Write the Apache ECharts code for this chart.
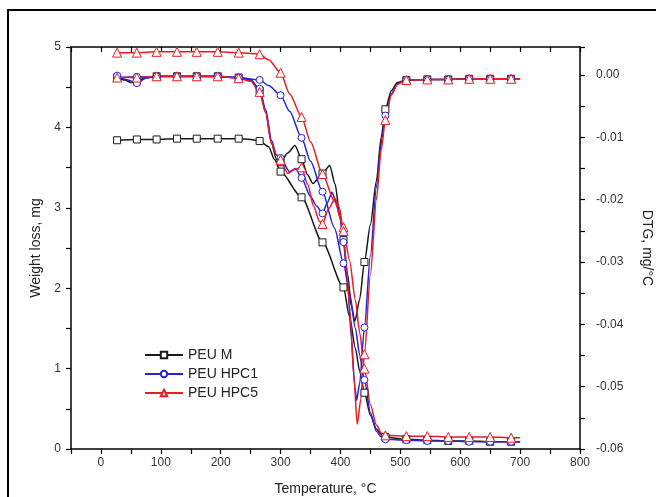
<!DOCTYPE html>
<html><head><meta charset="utf-8">
<script src="https://cdn.jsdelivr.net/npm/echarts@6/dist/echarts.min.js"></script>
<style>html,body{margin:0;padding:0;background:#fff}#c{width:656px;height:497px}</style>
</head><body><div id="c"></div>
<script>
// Temperatures (°C) where markers are drawn
const markerTemps = [27,60,93,127,160,195,230,265,300,335,370,405,440,475,510,545,580,615,650,685];
const seriesNames = ['PEU M','PEU HPC1','PEU HPC5'];

// TG curves (weight, mg) – left axis
const tgTemp_M = [27,60,93,127,160,195,230,250,265,280,290,300,335,370,405,415,425,432,440,450,460,468,475,510,545,580,615,650,685,700];
const tg_M     = [3.84,3.85,3.85,3.86,3.86,3.86,3.86,3.85,3.83,3.76,3.60,3.45,3.13,2.57,2.01,1.65,1.25,0.97,0.70,0.42,0.25,0.18,0.15,0.12,0.11,0.10,0.10,0.09,0.09,0.09];

const tgTemp_H1 = [27,60,93,127,160,195,230,265,280,300,315,335,350,370,390,405,415,425,432,440,450,460,468,475,510,545,580,615,650,685,700];
const tg_H1     = [4.62,4.63,4.63,4.63,4.63,4.63,4.62,4.59,4.52,4.40,4.20,3.87,3.58,3.20,2.75,2.31,1.95,1.50,1.17,0.86,0.45,0.22,0.15,0.12,0.11,0.10,0.10,0.09,0.09,0.09,0.09];

const tgTemp_H5 = [27,60,93,127,160,195,230,250,265,280,300,315,335,350,370,390,405,415,425,432,440,450,460,468,475,510,545,580,615,650,685,700];
const tg_H5     = [4.93,4.93,4.94,4.94,4.94,4.94,4.93,4.92,4.91,4.84,4.68,4.42,4.13,3.82,3.42,3.08,2.76,2.35,1.85,1.45,1.00,0.55,0.30,0.20,0.17,0.16,0.16,0.15,0.15,0.15,0.14,0.14];

// DTG curves (mg/°C) – right axis
const dtgTemp_M = [27,40,50,60,75,93,127,160,195,230,250,265,275,285,293,300,312,324,335,345,354,370,382,391,399,405,412,418,424,432,440,450,460,468,475,485,495,510,545,580,615,650,685,700];
const dtg_M     = [-0.0004,-0.0008,-0.0012,-0.0010,-0.0004,-0.0002,-0.0002,-0.0002,-0.0002,-0.0004,-0.0008,-0.0025,-0.0060,-0.0110,-0.0135,-0.0140,-0.0125,-0.0113,-0.0135,-0.0160,-0.0174,-0.0158,-0.0145,-0.0175,-0.0225,-0.0265,-0.0320,-0.0370,-0.0395,-0.0360,-0.0300,-0.0240,-0.0170,-0.0100,-0.0055,-0.0025,-0.0012,-0.0008,-0.0007,-0.0007,-0.0006,-0.0006,-0.0006,-0.0006];

const dtgTemp_H1 = [27,45,60,75,93,127,160,195,230,250,265,275,285,293,300,315,325,335,350,360,370,378,386,393,399,405,412,418,424,427,432,440,450,460,468,475,485,495,510,545,580,615,650,685,700];
const dtg_H1     = [-0.0001,-0.0008,-0.0013,-0.0005,-0.0002,-0.0002,-0.0002,-0.0002,-0.0004,-0.0008,-0.0022,-0.0055,-0.0105,-0.0128,-0.0133,-0.0155,-0.0150,-0.0165,-0.0195,-0.0210,-0.0222,-0.0205,-0.0188,-0.0205,-0.0228,-0.0268,-0.0335,-0.0420,-0.0500,-0.0522,-0.0495,-0.0405,-0.0290,-0.0180,-0.0110,-0.0065,-0.0030,-0.0014,-0.0008,-0.0007,-0.0007,-0.0006,-0.0006,-0.0006,-0.0006];

const dtgTemp_H5 = [27,60,93,127,160,195,230,250,265,275,285,293,300,312,322,335,345,355,365,370,380,391,398,405,410,416,422,428,434,440,450,460,468,475,485,495,510,545,580,615,650,685,700];
const dtg_H5     = [-0.0004,-0.0004,-0.0002,-0.0002,-0.0002,-0.0002,-0.0005,-0.0010,-0.0027,-0.0060,-0.0110,-0.0128,-0.0136,-0.0158,-0.0152,-0.0148,-0.0175,-0.0210,-0.0235,-0.0239,-0.0215,-0.0198,-0.0212,-0.0250,-0.0310,-0.0380,-0.0480,-0.0560,-0.0520,-0.0448,-0.0320,-0.0200,-0.0120,-0.0072,-0.0032,-0.0015,-0.0008,-0.0007,-0.0007,-0.0006,-0.0006,-0.0006,-0.0006];

const colors = ['#1a1a1a','#2323d8','#e81c24'];
const symbols = ['rect','circle','triangle'];
const symSizes = [7,7,9];

function mk(idx, temps, vals, yIdx) {
  const color = colors[idx];
  return {
    name: seriesNames[idx], type: 'line', xAxisIndex: 0, yAxisIndex: yIdx,
    smooth: 0.25, smoothMonotone: 'x',
    symbol: symbols[idx], symbolSize: symSizes[idx],
    lineStyle: {color: color, width: 1.5},
    itemStyle: {color: '#ffffff', borderColor: color, borderWidth: 1},
    emphasis: {disabled: true},
    data: temps.map((t, i) => markerTemps.includes(t) ? [t, vals[i]] : {value: [t, vals[i]], symbol: 'none'})
  };
}

const txt = {fontFamily: 'Liberation Sans, Arial, sans-serif'};
const chart = echarts.init(document.getElementById('c'), null, {renderer: 'canvas'});
chart.setOption({
  animation: false,
  backgroundColor: '#ffffff',
  textStyle: txt,
  graphic: [{type: 'rect', shape: {x: 8, y: 10, width: 700, height: 600}, style: {fill: 'none', stroke: '#000', lineWidth: 2}}],
  grid: {left: 71, right: 76, top: 47, bottom: 48, containLabel: false, outerBoundsMode: 'none'},
  legend: {
    orient: 'vertical', left: 139, top: 343, itemWidth: 38, itemHeight: 8, itemGap: 5,
    textStyle: {fontFamily: txt.fontFamily, fontSize: 14, color: '#222', lineHeight: 14},
    data: seriesNames
  },
  xAxis: [{
    type: 'value', position: 'bottom', min: -50, max: 800, interval: 50,
    name: 'Temperature, °C', nameLocation: 'middle', nameGap: 33,
    nameTextStyle: {fontSize: 14, color: '#222', fontFamily: txt.fontFamily},
    axisLine: {show: true, onZero: false, lineStyle: {color: '#000', width: 1.5}},
    axisTick: {show: true, inside: false, length: 5, lineStyle: {color: '#000', width: 1.2}},
    axisLabel: {margin: 8, fontSize: 12, color: '#333', formatter: v => (v >= 0 && v % 100 === 0) ? String(v) : ''},
    splitLine: {show: false}
  }, {
    type: 'value', position: 'top', min: -50, max: 800, interval: 50,
    axisLine: {show: true, onZero: false, lineStyle: {color: '#000', width: 1.5}},
    axisTick: {show: true, inside: true, length: 5, lineStyle: {color: '#000', width: 1.2}},
    axisLabel: {show: false}, splitLine: {show: false}
  }],
  yAxis: [{
    type: 'value', position: 'left', min: 0, max: 5, interval: 0.5,
    name: 'Weight loss, mg', nameLocation: 'middle', nameGap: 27,
    nameTextStyle: {fontSize: 14, color: '#222', fontFamily: txt.fontFamily},
    axisLine: {show: true, onZero: false, lineStyle: {color: '#000', width: 1.5}},
    axisTick: {show: true, inside: false, length: 5, lineStyle: {color: '#000', width: 1.2}},
    axisLabel: {margin: 10, fontSize: 12, color: '#333', formatter: v => Math.abs(v - Math.round(v)) < 1e-9 ? String(Math.round(v)) : ''},
    splitLine: {show: false}
  }, {
    type: 'value', position: 'right', min: -0.06, max: 0.0045, interval: 0.005,
    name: 'DTG, mg/°C', nameLocation: 'middle', nameGap: 60, nameRotate: -90,
    nameTextStyle: {fontSize: 14, color: '#222', fontFamily: txt.fontFamily},
    axisLine: {show: true, onZero: false, lineStyle: {color: '#000', width: 1.5}},
    axisTick: {show: true, inside: false, length: 5, lineStyle: {color: '#000', width: 1.2}},
    axisLabel: {margin: 16, fontSize: 12, color: '#333', formatter: v => {
      const k = Math.round(v * 1000);
      if (Math.abs(v * 1000 - k) > 1e-6 || k % 10 !== 0 || v > 1e-9) return '';
      return (k / 1000).toFixed(2);
    }},
    splitLine: {show: false}
  }],
  series: [
    mk(0, tgTemp_M, tg_M, 0),
    mk(0, dtgTemp_M, dtg_M, 1),
    mk(1, tgTemp_H1, tg_H1, 0),
    mk(1, dtgTemp_H1, dtg_H1, 1),
    mk(2, tgTemp_H5, tg_H5, 0),
    mk(2, dtgTemp_H5, dtg_H5, 1)
  ]
});
</script>
</body></html>
